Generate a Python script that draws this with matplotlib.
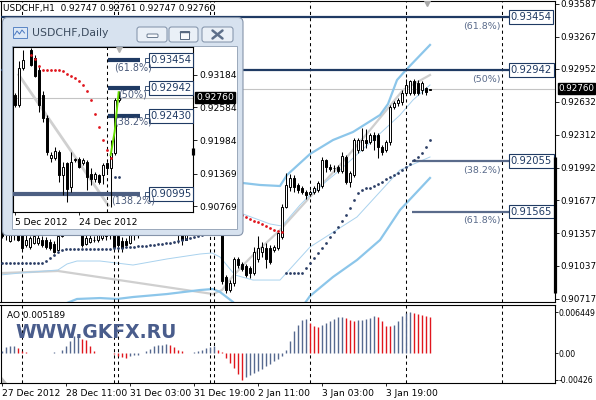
import numpy as np
import matplotlib.pyplot as plt
from matplotlib.patches import Rectangle, FancyBboxPatch, Polygon
from matplotlib.transforms import blended_transform_factory

plt.rcParams['font.family'] = 'DejaVu Sans'
plt.rcParams['font.size'] = 6.6

W, H = 596, 400

# USDCHF H1, bar 0 = 27 Dec 2012 19:00
h1_open = [0.9138, 0.9135, 0.9128, 0.9137, 0.9136, 0.9134, 0.9124, 0.9122, 0.9126, 0.9126,
           0.9129, 0.9129, 0.9127, 0.9125, 0.9119, 0.9133, 0.9143, 0.9148, 0.9153, 0.9147,
           0.9139, 0.9125, 0.9127, 0.9129, 0.9129, 0.9131, 0.9133, 0.9136, 0.9135, 0.9133,
           0.9128, 0.9128, 0.9126, 0.9134, 0.9137, 0.9141, 0.9147, 0.9143, 0.9146, 0.9150,
           0.9148, 0.9144, 0.9146, 0.9140, 0.9137, 0.9134, 0.9129, 0.9138, 0.9143, 0.9145,
           0.9142, 0.9146, 0.9144, 0.9139, 0.9141,
           0.9136, 0.9093, 0.9080, 0.9087, 0.9110, 0.9106, 0.9104, 0.9102, 0.9097, 0.9110,
           0.9117, 0.9121, 0.9121, 0.9119, 0.9121, 0.9132, 0.9161, 0.9180, 0.9189, 0.9182,
           0.9179, 0.9176, 0.9174, 0.9176, 0.9178, 0.9181, 0.9207, 0.9200, 0.9199, 0.9200,
           0.9196, 0.9210, 0.9185, 0.9192, 0.9216, 0.9216, 0.9226, 0.9224, 0.9231, 0.9231,
           0.9219, 0.9216, 0.9224, 0.9258, 0.9262, 0.9263, 0.9272, 0.9272, 0.9283, 0.9282,
           0.9275, 0.9277, 0.92747]
h1_high = [0.9141, 0.9139, 0.9140, 0.9141, 0.9139, 0.9138, 0.9134, 0.9133, 0.9135, 0.9134,
           0.9133, 0.9132, 0.9130, 0.9128, 0.9140, 0.9146, 0.9152, 0.9156, 0.9158, 0.9150,
           0.9142, 0.9136, 0.9135, 0.9133, 0.9136, 0.9137, 0.9138, 0.9140, 0.9139, 0.9137,
           0.9132, 0.9131, 0.9136, 0.9140, 0.9144, 0.9150, 0.9152, 0.9149, 0.9153, 0.9156,
           0.9152, 0.9149, 0.9150, 0.9145, 0.9141, 0.9139, 0.9140, 0.9146, 0.9149, 0.9150,
           0.9148, 0.9152, 0.9147, 0.9144, 0.9145,
           0.9140, 0.9095, 0.9090, 0.9112, 0.9112, 0.9108, 0.9106, 0.9104, 0.9122, 0.9133,
           0.9127, 0.9126, 0.9124, 0.9124, 0.9137, 0.9164, 0.9194, 0.9193, 0.9192, 0.9184,
           0.9181, 0.9178, 0.9178, 0.9181, 0.9186, 0.9210, 0.9208, 0.9203, 0.9202, 0.9202,
           0.9214, 0.9212, 0.9196, 0.9228, 0.9228, 0.9238, 0.9237, 0.9233, 0.9234, 0.9233,
           0.9221, 0.9226, 0.9260, 0.9264, 0.9267, 0.9275, 0.9285, 0.9284, 0.9285, 0.9284,
           0.9283, 0.9278, 0.92761]
h1_low = [0.9131, 0.9129, 0.9127, 0.9129, 0.9128, 0.9119, 0.9122, 0.9120, 0.9125, 0.9124,
          0.9122, 0.9120, 0.9119, 0.9116, 0.9118, 0.9132, 0.9139, 0.9144, 0.9145, 0.9136,
          0.9122, 0.9124, 0.9126, 0.9127, 0.9127, 0.9129, 0.9129, 0.9130, 0.9119, 0.9122,
          0.9117, 0.9123, 0.9125, 0.9129, 0.9131, 0.9138, 0.9140, 0.9139, 0.9142, 0.9145,
          0.9141, 0.9138, 0.9137, 0.9134, 0.9126, 0.9124, 0.9129, 0.9135, 0.9139, 0.9140,
          0.9138, 0.9141, 0.9136, 0.9135, 0.9134,
          0.9086, 0.9077, 0.9078, 0.9084, 0.9102, 0.9099, 0.9093, 0.9092, 0.9095, 0.9108,
          0.9112, 0.9102, 0.9106, 0.9117, 0.9119, 0.9130, 0.9160, 0.9177, 0.9176, 0.9175,
          0.9174, 0.9169, 0.9172, 0.9174, 0.9176, 0.9179, 0.9195, 0.9196, 0.9195, 0.9194,
          0.9194, 0.9183, 0.9180, 0.9190, 0.9213, 0.9215, 0.9218, 0.9222, 0.9216, 0.9209,
          0.9212, 0.9214, 0.9221, 0.9256, 0.9259, 0.9260, 0.9271, 0.9270, 0.9270, 0.9270,
          0.9271, 0.9270, 0.92747]
h1_close = [0.9133, 0.9136, 0.9137, 0.9134, 0.9129, 0.9121, 0.9129, 0.9131, 0.9133, 0.9131,
            0.9124, 0.9122, 0.9121, 0.9117, 0.9133, 0.9143, 0.9148, 0.9153, 0.9147, 0.9139,
            0.9124, 0.9131, 0.9131, 0.9129, 0.9134, 0.9134, 0.9136, 0.9134, 0.9122, 0.9124,
            0.9121, 0.9124, 0.9134, 0.9137, 0.9141, 0.9147, 0.9143, 0.9146, 0.9150, 0.9148,
            0.9144, 0.9146, 0.9140, 0.9137, 0.9134, 0.9129, 0.9138, 0.9143, 0.9145, 0.9142,
            0.9146, 0.9144, 0.9139, 0.9141, 0.9136,
            0.9089, 0.9080, 0.9087, 0.9110, 0.9105, 0.9101, 0.9095, 0.9097, 0.9117, 0.9121,
            0.9122, 0.9110, 0.9108, 0.9122, 0.9136, 0.9161, 0.9182, 0.9189, 0.9180, 0.9178,
            0.9176, 0.9173, 0.9176, 0.9179, 0.9184, 0.9207, 0.9200, 0.9198, 0.9199, 0.9196,
            0.9211, 0.9185, 0.9194, 0.9226, 0.9226, 0.9226, 0.9223, 0.9231, 0.9226, 0.9219,
            0.9214, 0.9224, 0.9258, 0.9262, 0.9265, 0.9272, 0.9280, 0.9283, 0.9272, 0.9272,
            0.9282, 0.9273, 0.92760]

# parabolic SAR dots
sar_low_a = [0.91066] * 11 + [0.91085, 0.91114, 0.91143, 0.91173, 0.91192] + [0.91202] * 12 + \
            [0.91211] * 3 + [0.91221] * 3 + [0.91231] * 3 + [0.91241] * 2 + [0.91250] * 2 + \
            [0.91260] * 2 + [0.91270, 0.91280, 0.91289, 0.91299, 0.91309, 0.91318, 0.91328,
                             0.91338, 0.91348, 0.91357, 0.91367, 0.91377]          # bars 0-54
sar_high = [0.91648, 0.91629, 0.91610, 0.91590, 0.91571, 0.91532, 0.91513, 0.91493,
            0.91474, 0.91464, 0.91445, 0.91425, 0.91406, 0.91386, 0.91377, 0.91367]  # bars 55-70
sar_low_b = [0.90968] * 5 + [0.91017, 0.91066, 0.91114, 0.91163, 0.91211, 0.91260, 0.91318,
                             0.91367, 0.91416, 0.91474, 0.91532, 0.91600, 0.91678, 0.91746,
                             0.91775, 0.91795, 0.91795, 0.91814, 0.91834, 0.91853, 0.91882,
                             0.91902, 0.91921, 0.91940, 0.91970, 0.91999, 0.92028, 0.92067,
                             0.92096, 0.92135, 0.92193, 0.92261]                  # bars 71-107

# envelope / band lines, read at sample bars
band_up_x = [57, 60.25, 64.5, 69.5, 71.25, 77, 82.75, 87.75, 94.5, 96.5, 98.75, 101, 107]
band_up_y = [0.91853, 0.91843, 0.91824, 0.91814, 0.91921, 0.92125, 0.92261, 0.92339,
             0.92504, 0.92611, 0.92844, 0.92942, 0.93185]
band_dn_x = [9.5, 16.25, 18.75, 24.5, 28.75, 32.75, 41.25, 49.5, 52.75, 54.5, 57.75, 60.75,
             72, 74.5, 77, 82.75, 88.75, 94.5, 99.5, 107]
band_dn_y = [0.90560, 0.90677, 0.90716, 0.90725, 0.90716, 0.90735, 0.90764, 0.90803, 0.90813,
             0.90784, 0.90687, 0.90560, 0.90512, 0.90609, 0.90745, 0.90930, 0.91095, 0.91289,
             0.91581, 0.91892]
mid_up_x = [49.5, 57, 60.25, 67, 70, 74.5, 77, 84.5, 92.75, 99.5, 102.75, 107]
mid_up_y = [0.91435, 0.91542, 0.91542, 0.91445, 0.91425, 0.91629, 0.91727, 0.91970, 0.92261,
            0.92504, 0.92650, 0.92796]
mid_dn_x = [-0.5, 4.5, 14, 16.25, 18.75, 24.5, 32.75, 41.25, 49.5, 52.5, 54.5, 58.25, 62.75,
            69.5, 77, 88.75, 99.5, 107]
mid_dn_y = [0.90949, 0.90968, 0.90998, 0.91056, 0.91085, 0.91085, 0.91046, 0.91105, 0.91153,
            0.91163, 0.91124, 0.90949, 0.90900, 0.90900, 0.91221, 0.91513, 0.91970, 0.92096]
ma_x = [0, 14, 52.75, 55, 57.75, 62, 69.5, 77, 84.5, 92, 100.25, 107]
ma_y = [0.90968, 0.90988, 0.90764, 0.90803, 0.90939, 0.91114, 0.91386, 0.91707, 0.92018,
        0.92358, 0.92747, 0.92893]

ao_values = [0.00026, 0.00090, 0.00106, 0.00116, 0.00079, 0.00037, 0.00011, 0.00005, 0.00004, 0.00002,
             0.00001, 0.00000, 0.00003, 0.00016, 0.00005, 0.00053, 0.00116, 0.00185, 0.00265, 0.00291,
             0.00222, 0.00201, 0.00106, 0.00026, 0.00005, 0.00002, 0.00001, -0.00005, -0.00016, -0.00042,
             -0.00063, -0.00079, -0.00053, -0.00037, -0.00026, 0.00001, 0.00026, 0.00063, 0.00106, 0.00122,
             0.00132, 0.00138, 0.00122, 0.00090, 0.00053, 0.00026, 0.00005, 0.00001, 0.00011, 0.00037,
             0.00053, 0.00074, 0.00090, 0.00106, 0.00053, 0.00011, -0.00079, -0.00159, -0.00238, -0.00328,
             -0.00423, -0.00381, -0.00344, -0.00317, -0.00291, -0.00249, -0.00212, -0.00175, -0.00132, -0.00095,
             -0.00053, 0.00053, 0.00185, 0.00344, 0.00450, 0.00518, 0.00540, 0.00476, 0.00423, 0.00413,
             0.00450, 0.00476, 0.00503, 0.00540, 0.00566, 0.00571, 0.00555, 0.00529, 0.00503, 0.00518,
             0.00529, 0.00540, 0.00555, 0.00592, 0.00571, 0.00503, 0.00434, 0.00423, 0.00450, 0.00503,
             0.00582, 0.00635, 0.00645, 0.00635, 0.00624, 0.00608, 0.00582, 0.00571]

day_seps = [5, 28, 29, 52, 53, 77, 101, 125]
time_ticks = [0, 16, 32, 48, 64, 80, 96]
time_labels = ['27 Dec 2012', '28 Dec 11:00', '31 Dec 03:00', '31 Dec 19:00',
               '2 Jan 11:00', '3 Jan 03:00', '3 Jan 19:00']
price_ticks = [0.93587, 0.93267, 0.92952, 0.92632, 0.92312, 0.91992, 0.91677, 0.91357, 0.91037, 0.90717]
ao_ticks = [0.006449, 0.0, -0.00426]
ao_tick_labels = ['0.006449', '0.00', '-0.00426']
last_price = 0.92760

fib_levels = [0.93454, 0.92942, 0.92055, 0.91565]
fib_names = ['(61.8%)', '(50%)', '(38.2%)', '(61.8%)']
fib_from = [-2, -2, 102.5, 102.5]

# USDCHF Daily (inset), bar 0 = 5 Dec 2012
d_open = [0.92815, 0.92631, 0.93307, 0.93760, 0.93645, 0.93491, 0.93276, 0.92815, 0.92385, 0.91648,
          0.91648, 0.91771, 0.91340, 0.91555, 0.91125, 0.91617, 0.91635, 0.91555, 0.91586, 0.91371,
          0.91279, 0.91340, 0.91340, 0.91555, 0.91463, 0.91740, 0.92723]
d_high = [0.92846, 0.93430, 0.93645, 0.93800, 0.93676, 0.93553, 0.93338, 0.92877, 0.92447, 0.91771,
          0.91863, 0.91801, 0.91586, 0.91586, 0.91771, 0.91660, 0.91678, 0.91648, 0.91617, 0.91463,
          0.91402, 0.91371, 0.91555, 0.91586, 0.91986, 0.92754, 0.92889]
d_low = [0.92600, 0.92600, 0.93276, 0.93700, 0.93338, 0.93135, 0.92508, 0.92324, 0.91709, 0.91586,
         0.91617, 0.91218, 0.90972, 0.90849, 0.91033, 0.91574, 0.91463, 0.91525, 0.91064, 0.91156,
         0.91218, 0.91187, 0.91187, 0.91402, 0.90757, 0.91709, 0.92692]
d_close = [0.92631, 0.93307, 0.93460, 0.93720, 0.93368, 0.93153, 0.92631, 0.92385, 0.91771, 0.91709,
           0.91783, 0.91340, 0.91494, 0.91095, 0.91586, 0.91629, 0.91494, 0.91617, 0.91310, 0.91279,
           0.91353, 0.91218, 0.91525, 0.91463, 0.91740, 0.92723, 0.92760]
d_sar_high = [0.93553, 0.93473, 0.93338, 0.93276, 0.93276, 0.93276, 0.93276, 0.93276, 0.93245,
              0.93196, 0.93153, 0.93122, 0.93073, 0.92999, 0.92877, 0.92723, 0.92465, 0.92231,
              0.91986, 0.91801, 0.91660]   # bars 4-24
d_sar_low = [0.91310, 0.91310]             # bars 25-26
d_trend_x = [1, 23.4]
d_trend_y = [0.93184, 0.90787]
d_green_x = [24, 25, 26]
d_green_y = [0.91709, 0.92139, 0.92864]
d_sep = 23
d_fib_levels = [0.93454, 0.92942, 0.92430, 0.90995]
d_fib_names = ['(61.8%)', '(50%)', '(38.2%)', '(138.2%)']
d_pct_y = [0.93313, 0.92815, 0.92318, 0.90880]
d_price_ticks = [0.93184, 0.92584, 0.91984, 0.91369, 0.90769]
d_date_ticks = [0, 16]
d_date_labels = ['5 Dec 2012', '24 Dec 2012']

NAVY = '#1f3a63'
SLATE = '#5a6b8b'
BAND = '#8cc6ea'
THIN = '#a9d2ee'
RED = '#e0161e'
AO_BLUE = '#56698f'
AXIS_FS = 6.3


def frac(x0, y0, x1, y1):
    # pixel box (top-left origin) -> figure fraction
    return [x0 / W, 1 - y1 / H, (x1 - x0) / W, (y1 - y0) / H]


def draw_candles(a, o, h, l, c, width=0.55):
    o, h, l, c = map(np.asarray, (o, h, l, c))
    x = np.arange(len(o))
    a.vlines(x, l, h, color='black', lw=0.75, zorder=3)
    up = c >= o
    a.bar(x[up], c[up] - o[up], bottom=o[up], width=width, facecolor='white',
          edgecolor='black', linewidth=0.7, zorder=4)
    a.bar(x[~up], o[~up] - c[~up], bottom=c[~up], width=width, facecolor='black',
          edgecolor='black', linewidth=0.7, zorder=4)


fig = plt.figure(figsize=(W / 100, H / 100), dpi=100)
fig.patch.set_facecolor('white')

ax = fig.add_axes(frac(0.5, 0.5, 555, 302), zorder=1)
ao = fig.add_axes(frac(0.5, 305, 555, 383), zorder=1)

# ---- main H1 chart ----
ax.set_xlim(-0.375, 138.25)
ax.set_ylim(0.906866, 0.93617)
ax.axhline(last_price, color='#c4c4c4', lw=0.8, zorder=1.5)
ax.plot(ma_x, ma_y, color='#cfcfcf', lw=1.6, zorder=2)
ax.plot(band_up_x, band_up_y, color=BAND, lw=1.6, zorder=2)
ax.plot(band_dn_x, band_dn_y, color=BAND, lw=1.6, zorder=2)
ax.plot(mid_up_x, mid_up_y, color=THIN, lw=0.7, zorder=2)
ax.plot(mid_dn_x, mid_dn_y, color=THIN, lw=0.7, zorder=2)
for s in day_seps:
    ax.axvline(s, color='black', lw=0.75, ls=(0, (3, 3)), zorder=2.5)
    ao.axvline(s, color='black', lw=0.75, ls=(0, (3, 3)), zorder=2.5)
draw_candles(ax, h1_open, h1_high, h1_low, h1_close)
ax.plot(np.arange(0, 55), sar_low_a, 'o', ms=2.0, color='#2c3f66', mew=0, zorder=5)
ax.plot(np.arange(55, 71), sar_high, 'o', ms=2.0, color=RED, mew=0, zorder=5)
ax.plot(np.arange(71, 108), sar_low_b, 'o', ms=2.0, color='#2c3f66', mew=0, zorder=5)

for lev, name, x0, k in zip(fib_levels, fib_names, fib_from, range(4)):
    col = NAVY if k < 2 else SLATE
    ax.hlines(lev, x0, 126.75, color=col, lw=1.6, zorder=2.6)
    ax.text(127.15, lev, f'{lev:.5f}', ha='left', va='center', fontsize=7.2, color=NAVY, zorder=6,
            bbox=dict(boxstyle='square,pad=0.18', fc='white', ec=NAVY, lw=0.8))
    ax.text(124.6, lev - 0.00088, name, ha='right', va='center', fontsize=6.8, color=SLATE, zorder=6)

ax.set_xticks([])
ax.yaxis.tick_right()
ax.set_yticks(price_ticks)
ax.set_yticklabels([f'{p:.5f}' for p in price_ticks])
ax.tick_params(axis='y', length=3, width=0.6, pad=1.2, labelsize=AXIS_FS)
for sp in ax.spines.values():
    sp.set_linewidth(0.8)
trans = blended_transform_factory(ax.transAxes, ax.transData)
ax.text(1.0 + 3.5 / 554, last_price, f'{last_price:.5f}', transform=trans, ha='left', va='center',
        color='white', fontsize=AXIS_FS, clip_on=False, zorder=10,
        bbox=dict(boxstyle='square,pad=0.1', fc='black', ec='black'))
ax.plot([1, 1], [0.481, 0.030], transform=ax.transAxes, color='black', lw=2.3,
        solid_capstyle='butt', clip_on=False, zorder=10)
ax.plot([106.25], [0.992], marker='v', ms=4.5, color='#a8a8a8',
        transform=blended_transform_factory(ax.transData, ax.transAxes), zorder=6)

# ---- AO ----
ao_v = np.asarray(ao_values)
ao_col = [AO_BLUE if (k == 0 or ao_v[k] > ao_v[k - 1]) else RED for k in range(len(ao_v))]
ao.vlines(np.arange(len(ao_v)), 0, ao_v, colors=ao_col, lw=1.0, zorder=3)
ao.set_xlim(-0.375, 138.25)
ao.set_ylim(-0.00476, 0.00762)
ao.yaxis.tick_right()
ao.set_yticks(ao_ticks)
ao.set_yticklabels(ao_tick_labels)
ao.set_xticks(time_ticks)
ao.set_xticklabels(time_labels)
for lab in ao.get_xticklabels():
    lab.set_ha('left')
ao.tick_params(axis='y', length=2, width=0.6, pad=0.8, labelsize=5.6)
ao.tick_params(axis='x', length=2, width=0.6, pad=2.5, labelsize=6.6)
for sp in ao.spines.values():
    sp.set_linewidth(0.8)

fig.text(3 / W, 1 - 8 / H, 'USDCHF,H1  0.92747 0.92761 0.92747 0.92760', fontsize=6.4,
         va='center', ha='left', zorder=4)
fig.text(7 / W, 1 - 315 / H, 'AO 0.005189', fontsize=6.4, va='center', ha='left', zorder=4)
fig.text(15 / W, 1 - 332.5 / H, 'WWW.GKFX.RU', fontsize=13.5, fontweight='bold',
         color='#4a5d8c', va='center', ha='left', zorder=10)

# ---- floating Daily window ----
pix = fig.add_axes([0, 0, 1, 1], zorder=5)
pix.set_xlim(0, W)
pix.set_ylim(H, 0)
pix.axis('off')
pix.add_patch(Polygon([(1.5, 377), (1.5, 382.5), (7, 382.5)], closed=True, fc='#b8b8b8', ec='none'))
pix.add_patch(FancyBboxPatch((2.5, 17.5), 240.5, 218, boxstyle='round,pad=0,rounding_size=5',
                             fc='#d7e2ef', ec='#8594aa', lw=0.8))
pix.add_patch(Rectangle((12, 46), 225, 182.5, fc='white', ec='#9aa8bb', lw=0.7))
pix.add_patch(Rectangle((12.5, 26.5), 14, 11, fc='#dce8f6', ec='#5a86c5', lw=0.7))
pix.plot([14.5, 17, 19.5, 22, 24.5], [35, 31, 34, 30, 33], color='#4a78c0', lw=0.7)
pix.text(32, 33.5, 'USDCHF,Daily', fontsize=7.8, color='#3b4b5e', va='center', ha='left')
for bx, bw in [(137, 30), (169, 29), (202, 31)]:
    pix.add_patch(FancyBboxPatch((bx, 27), bw, 15, boxstyle='round,pad=0,rounding_size=2.5',
                                 fc='#eaf0f7', ec='#7d8ea6', lw=0.7))
pix.add_patch(FancyBboxPatch((147, 34), 11, 3.5, boxstyle='round,pad=0,rounding_size=1',
                             fc='#f7f9fc', ec='#55677f', lw=0.6))
pix.add_patch(Rectangle((179.5, 31), 9, 7.5, fc='#f7f9fc', ec='#55677f', lw=0.7))
pix.plot([179.5, 188.5], [32.3, 32.3], color='#55677f', lw=1.0)
pix.plot([212.5, 222.5], [30.5, 38.5], color='#5d6f8a', lw=1.8, solid_capstyle='round')
pix.plot([212.5, 222.5], [38.5, 30.5], color='#5d6f8a', lw=1.8, solid_capstyle='round')

dax = fig.add_axes(frac(13, 47, 193, 212), zorder=6)
dax.set_facecolor('white')
dax.set_xlim(-0.43, 44.6)
dax.set_ylim(0.90664, 0.93694)
dax.axhline(last_price, color='#c4c4c4', lw=0.8, zorder=1.5)
dax.plot(d_trend_x, d_trend_y, color='#d0d0d0', lw=2.0, zorder=2)
dax.axvline(d_sep, color='black', lw=0.75, ls=(0, (3, 3)), zorder=2.5)
draw_candles(dax, d_open, d_high, d_low, d_close)
dax.plot(d_green_x, d_green_y, color='#66dd00', lw=1.4, zorder=5)
dax.plot(np.arange(4, 25), d_sar_high, 'o', ms=2.0, color=RED, mew=0, zorder=5)
dax.plot(np.arange(25, 27), d_sar_low, 'o', ms=2.0, color='#2c3f66', mew=0, zorder=5)
for lev, k in zip(d_fib_levels, range(4)):
    col = NAVY if k < 3 else '#4d5f82'
    x0 = 23.3 if k < 3 else -0.5
    dax.hlines(lev, x0, 31.3, color=col, lw=3.0, zorder=2.6)
    dax.plot([33.0], [lev], marker='s', ms=2.6, mfc='white', mec=NAVY, mew=0.6, zorder=6)
    dax.text(33.95, lev, f'{lev:.5f}', ha='left', va='center', fontsize=7.2, color=NAVY, zorder=6,
             bbox=dict(boxstyle='square,pad=0.18', fc='white', ec=NAVY, lw=0.8))
for py, name in zip(d_pct_y, d_fib_names):
    dax.text(29.6, py, name, ha='center', va='center', fontsize=6.9, color='#4a5a7a', zorder=6)
dax.yaxis.tick_right()
dax.set_yticks(d_price_ticks)
dax.set_yticklabels([f'{p:.5f}' for p in d_price_ticks])
dax.set_xticks(d_date_ticks)
dax.set_xticklabels(d_date_labels)
for lab in dax.get_xticklabels():
    lab.set_ha('left')
dax.tick_params(axis='y', length=3, width=0.6, pad=1.5, labelsize=6.6)
dax.tick_params(axis='x', length=2, width=0.6, pad=2.0, labelsize=6.6)
for sp in dax.spines.values():
    sp.set_linewidth(0.8)
dtrans = blended_transform_factory(dax.transAxes, dax.transData)
dax.text(1.0 + 3.5 / 180, last_price, f'{last_price:.5f}', transform=dtrans, ha='left', va='center',
         color='white', fontsize=6.6, clip_on=False, zorder=10,
         bbox=dict(boxstyle='square,pad=0.12', fc='black', ec='black'))
dax.plot([1, 1], [0.388, 0.345], transform=dax.transAxes, color='black', lw=2.3,
         solid_capstyle='butt', clip_on=False, zorder=10)
dax.plot([26], [0.99], marker='v', ms=4.5, color='#b0b0b0',
         transform=blended_transform_factory(dax.transData, dax.transAxes), zorder=6)

fig.savefig('out.png', dpi=100)
